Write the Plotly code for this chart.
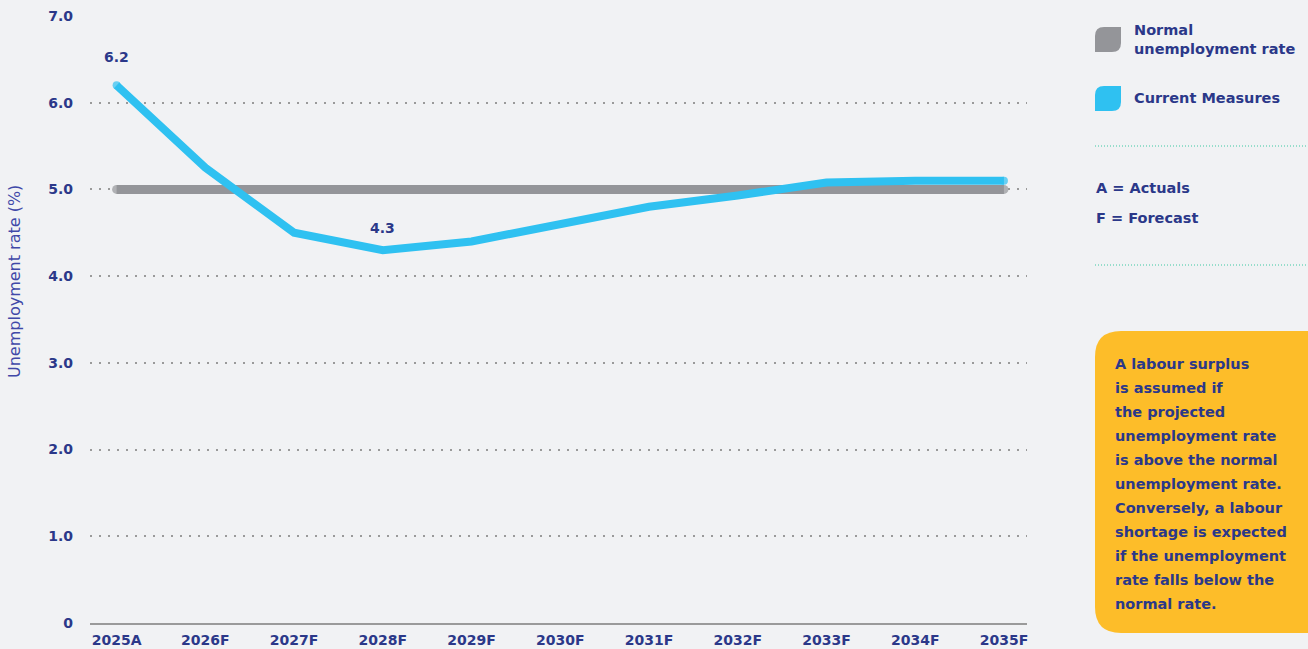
import plotly.graph_objects as go

# ---- data ----
years = ["2025A", "2026F", "2027F", "2028F", "2029F", "2030F",
         "2031F", "2032F", "2033F", "2034F", "2035F"]
current_measures = [6.2, 5.25, 4.5, 4.3, 4.4, 4.6, 4.8, 4.93, 5.08, 5.1, 5.1]
normal_rate = [5.0] * len(years)
y_ticks = [0, 1, 2, 3, 4, 5, 6, 7]
y_tick_labels = ["0", "1.0", "2.0", "3.0", "4.0", "5.0", "6.0", "7.0"]
labelled_points = {"2025A": "6.2", "2028F": "4.3"}
note_lines = ["A labour surplus", "is assumed if", "the projected",
              "unemployment rate", "is above the normal",
              "unemployment rate.", "Conversely, a labour",
              "shortage is expected", "if the unemployment",
              "rate falls below the", "normal rate."]

# ---- style ----
W, H = 1308, 649
PL, PR, PT, PB = 90, 1027, 16, 623
NAVY = "#2b3889"
BLUE = "#2fc1f1"
GREY = "#949599"
BG = "#f1f2f4"
FONT = "DejaVu Sans"
FS = 14
label_shift = {"2025A": 28, "2028F": 22}

xidx = list(range(len(years)))


def px(x):
    return (x - PL) / (PR - PL)


def py(y):
    return (PB - y) / (PB - PT)


def end_caps(n, w):
    return [w] + [0] * (n - 2) + [w]


fig = go.Figure()
fig.add_trace(go.Scatter(x=xidx, y=normal_rate, mode="lines+markers",
                         line=dict(color=GREY, width=9),
                         marker=dict(color=GREY, size=end_caps(len(years), 9), line=dict(width=0)),
                         name="Normal unemployment rate", hoverinfo="skip"))
fig.add_trace(go.Scatter(x=xidx, y=current_measures, mode="lines+markers",
                         line=dict(color=BLUE, width=8),
                         marker=dict(color=BLUE, size=end_caps(len(years), 8), line=dict(width=0)),
                         name="Current Measures"))

annotations = []
for yr, txt in labelled_points.items():
    i = years.index(yr)
    annotations.append(dict(x=i, y=current_measures[i], xref="x", yref="y",
                            text="<b>%s</b>" % txt, showarrow=False,
                            yshift=label_shift[yr], font=dict(family=FONT, size=FS, color=NAVY)))

# y-axis title
annotations.append(dict(x=px(15), y=py(282), xref="paper", yref="paper",
                        xanchor="center", yanchor="middle",
                        text="Unemployment rate (%)", textangle=-90,
                        showarrow=False,
                        font=dict(family=FONT, size=16, color="#4048a8")))

# legend texts
annotations.append(dict(x=px(1132), y=py(39), xref="paper", yref="paper",
                        xanchor="left", yanchor="middle", align="left",
                        text="<b>Normal<br>unemployment rate</b>", showarrow=False,
                        font=dict(family=FONT, size=14.5, color=NAVY)))
annotations.append(dict(x=px(1132), y=py(98), xref="paper", yref="paper",
                        xanchor="left", yanchor="middle",
                        text="<b>Current Measures</b>", showarrow=False,
                        font=dict(family=FONT, size=14.5, color=NAVY)))
for t, yy in [("A = Actuals", 188), ("F = Forecast", 218)]:
    annotations.append(dict(x=px(1094), y=py(yy), xref="paper", yref="paper",
                            xanchor="left", yanchor="middle",
                            text="<b>%s</b>" % t, showarrow=False,
                            font=dict(family=FONT, size=14.5, color=NAVY)))
for k, line in enumerate(note_lines):
    annotations.append(dict(x=px(1113), y=py(364 + 24 * k), xref="paper", yref="paper",
                            xanchor="left", yanchor="middle",
                            text="<b>%s</b>" % line, showarrow=False,
                            font=dict(family=FONT, size=14.5, color=NAVY)))


def leaf(x0, y0, x1, y1, r):
    # rounded top-left and bottom-right corners
    X0, X1 = px(x0), px(x1)
    Y0, Y1 = py(y0), py(y1)
    rx = r / (PR - PL)
    ry = r / (PB - PT)
    return (f"M {X0},{Y1} L {X0},{Y0 - ry} Q {X0},{Y0} {X0 + rx},{Y0} "
            f"L {X1},{Y0} L {X1},{Y1 + ry} Q {X1},{Y1} {X1 - rx},{Y1} Z")


def rrect(x0, y0, x1, y1, r):
    X0, X1 = px(x0), px(x1)
    Y0, Y1 = py(y0), py(y1)
    rx = r / (PR - PL)
    ry = r / (PB - PT)
    return (f"M {X0 + rx},{Y0} L {X1 - rx},{Y0} Q {X1},{Y0} {X1},{Y0 - ry} "
            f"L {X1},{Y1 + ry} Q {X1},{Y1} {X1 - rx},{Y1} L {X0 + rx},{Y1} "
            f"Q {X0},{Y1} {X0},{Y1 + ry} L {X0},{Y0 - ry} Q {X0},{Y0} {X0 + rx},{Y0} Z")


shapes = [
    dict(type="path", xref="paper", yref="paper", path=leaf(1095, 27, 1121, 52, 9),
         fillcolor=GREY, line=dict(width=0)),
    dict(type="path", xref="paper", yref="paper", path=leaf(1095, 86, 1121, 111, 9),
         fillcolor=BLUE, line=dict(width=0)),
    dict(type="line", xref="paper", yref="paper", x0=px(1095), x1=px(1308),
         y0=py(146), y1=py(146), line=dict(color="#3cc8a2", width=1, dash="1px,2px")),
    dict(type="line", xref="paper", yref="paper", x0=px(1095), x1=px(1308),
         y0=py(265), y1=py(265), line=dict(color="#3cc8a2", width=1, dash="1px,2px")),
    dict(type="path", xref="paper", yref="paper", path=rrect(1095, 331, 1335, 633, 26),
         fillcolor="#fdbd29", line=dict(width=0), layer="below"),
]

fig.update_layout(
    width=W, height=H, autosize=False,
    margin=dict(l=PL, r=W - PR, t=PT, b=H - PB, pad=0),
    paper_bgcolor=BG, plot_bgcolor=BG,
    showlegend=False,
    font=dict(family=FONT, color=NAVY),
    annotations=annotations,
    shapes=shapes,
    xaxis=dict(
        range=[-0.3, 10.26], tickmode="array", tickvals=xidx, ticktext=years,
        showgrid=False, zeroline=False, showline=True, linecolor="#9a9a9a",
        linewidth=1.5, ticks="", ticklabelstandoff=3, automargin=False,
        tickfont=dict(family=FONT, size=FS, color=NAVY, weight="bold"),
        fixedrange=True,
    ),
    yaxis=dict(
        range=[0, 7], tickmode="array", tickvals=y_ticks, ticktext=y_tick_labels,
        showgrid=True, gridcolor="#9a9a9a", gridwidth=1.5, griddash="1.5px,7.5px",
        zeroline=False, showline=False, ticks="", ticklabelstandoff=16, automargin=False,
        tickfont=dict(family=FONT, size=FS, color=NAVY, weight="bold"),
        fixedrange=True,
    ),
)

fig.write_html("out.html", config={"displayModeBar": False, "responsive": False},
               post_script="document.body.style.margin='0';document.body.style.overflow='hidden';")
